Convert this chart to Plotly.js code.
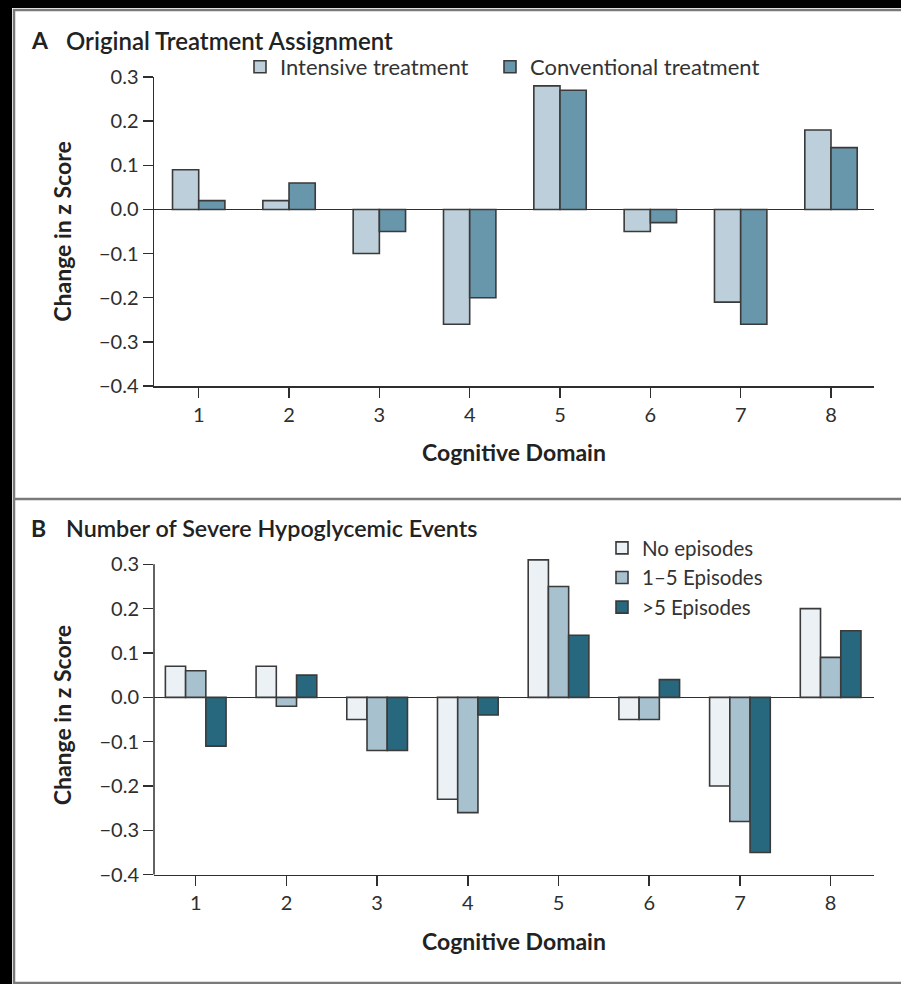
<!DOCTYPE html>
<html>
<head>
<meta charset="utf-8">
<script src="https://cdn.plot.ly/plotly-3.0.1.min.js"></script>
<style>html,body{margin:0;padding:0;background:#000;}</style>
</head>
<body>
<div id="chart" style="width:901px;height:984px;"></div>
<script>
// ---- data ----
const domains = [1, 2, 3, 4, 5, 6, 7, 8];
const domainTickText = ['1', '2', '3', '4', '5', '6', '7', '8'];
const yTickVals = [-0.4, -0.3, -0.2, -0.1, 0, 0.1, 0.2, 0.3];
const yTickText = ['\u22120.4', '\u22120.3', '\u22120.2', '\u22120.1', '0.0', '0.1', '0.2', '0.3'];

const panelATitle = 'Original Treatment Assignment';
const panelBTitle = 'Number of Severe Hypoglycemic Events';
const xTitle = 'Cognitive Domain';
const yTitle = 'Change in z Score';

const seriesANames = ['Intensive treatment', 'Conventional treatment'];
const intensive =    [0.09, 0.02, -0.10, -0.26, 0.28, -0.05, -0.21, 0.18];
const conventional = [0.02, 0.06, -0.05, -0.20, 0.27, -0.03, -0.26, 0.14];

const seriesBNames = ['No episodes', '1\u20135 Episodes', '>5 Episodes'];
const noEpisodes =    [0.07, 0.07, -0.05, -0.23, 0.31, -0.05, -0.20, 0.20];
const episodes1to5 =  [0.06, -0.02, -0.12, -0.26, 0.25, -0.05, -0.28, 0.09];
const episodesOver5 = [-0.11, 0.05, -0.12, -0.04, 0.14, 0.04, -0.35, 0.15];

// ---- styling ----
const W = 901, H = 984;
const fx = p => p / W;
const fy = p => 1 - p / H;
const FONT = 'Lato, "Open Sans", sans-serif';
const INK = '#2e2e2e';
const OUTLINE = {color: '#3a3a3a', width: 1.6};
const colorsA = ['#bccfda', '#6896ab'];
const colorsB = ['#ebf1f5', '#a8c1cf', '#27687e'];

const wA = 0.29;
const wB = 0.223;

function bar(name, y, xa, ya, w, off, color, leg, lw) {
  const t = {type: 'bar', name: name, x: domains, y: y, xaxis: xa, yaxis: ya,
          width: w, offset: off, cliponaxis: false,
          marker: {color: color, line: OUTLINE}, legend: leg, hoverinfo: 'x+y'};
  if (lw) t.legendwidth = lw;
  return t;
}

const traces = [
  bar(seriesANames[0], intensive, 'x', 'y', wA, -wA, colorsA[0], 'legend', 205),
  bar(seriesANames[1], conventional, 'x', 'y', wA, 0, colorsA[1], 'legend', 260),
  bar(seriesBNames[0], noEpisodes, 'x2', 'y2', wB, -1.5 * wB, colorsB[0], 'legend2'),
  bar(seriesBNames[1], episodes1to5, 'x2', 'y2', wB, -0.5 * wB, colorsB[1], 'legend2'),
  bar(seriesBNames[2], episodesOver5, 'x2', 'y2', wB, 0.5 * wB, colorsB[2], 'legend2')
];

function xAxis(range, anchor) {
  return {
    domain: [fx(154), fx(874)], range: range, anchor: anchor,
    tickmode: 'array', tickvals: domains, ticktext: domainTickText,
    ticks: 'outside', ticklen: 10, tickwidth: 1.5, tickcolor: INK,
    showline: true, linecolor: INK, linewidth: 1.5,
    showgrid: false, zeroline: false, fixedrange: true,
    tickfont: {family: FONT, size: 20, color: INK},
    title: {text: xTitle, font: {family: FONT, size: 23, color: '#222', weight: 700}, standoff: 20}
  };
}
function yAxis(range, top, bottom, anchor, showline) {
  return {
    domain: [fy(bottom), fy(top)], range: range, anchor: anchor,
    tickmode: 'array', tickvals: yTickVals, ticktext: yTickText,
    ticks: 'outside', ticklen: 10, tickwidth: 1.5, tickcolor: INK,
    showline: showline, linecolor: INK, linewidth: 1.5,
    showgrid: false, zeroline: true, zerolinecolor: INK, zerolinewidth: 1.5, fixedrange: true,
    tickfont: {family: FONT, size: 20, color: INK},
    title: {text: yTitle, font: {family: FONT, size: 23, color: '#222', weight: 700}, standoff: 21}
  };
}

// panel B: allow the 0.31 bar to rise above the 0.3 tick (axis line drawn to 0.3 only)
const pxPerUnitB = (874.7 - 564.3) / 0.7;
const yBTopPx = 564.3 - 0.02 * pxPerUnitB;

const layout = {
  width: W, height: H,
  margin: {l: 0, r: 0, t: 0, b: 0},
  paper_bgcolor: '#000',
  plot_bgcolor: '#fff',
  barmode: 'overlay',
  font: {family: FONT, color: INK},
  xaxis: xAxis([0.505, 8.476], 'y'),
  yaxis: yAxis([-0.4, 0.3], 77, 386, 'x', true),
  xaxis2: xAxis([0.54, 8.478], 'y2'),
  yaxis2: yAxis([-0.4, 0.32], yBTopPx, 874.7, 'x2', false),
  legend: {
    orientation: 'h', x: fx(240), y: fy(46), xanchor: 'left', yanchor: 'top',
    font: {family: FONT, size: 22, color: '#333'}, bgcolor: 'rgba(0,0,0,0)',
    entrywidthmode: 'pixels', traceorder: 'normal'
  },
  legend2: {
    orientation: 'v', x: fx(602), y: fy(528), xanchor: 'left', yanchor: 'top',
    font: {family: FONT, size: 20.5, color: '#333'}, bgcolor: 'rgba(0,0,0,0)',
    traceorder: 'normal', tracegroupgap: 0
  },
  shapes: [
    {type: 'rect', xref: 'paper', yref: 'paper', x0: fx(12), x1: fx(905), y0: fy(8), y1: fy(990),
     fillcolor: '#fff', line: {width: 0}, layer: 'below'},
    {type: 'rect', xref: 'paper', yref: 'paper', x0: fx(14), x1: fx(905), y0: fy(10), y1: fy(983),
     fillcolor: 'rgba(0,0,0,0)', line: {color: '#7a7a7a', width: 2.5}, layer: 'above'},
    {type: 'line', xref: 'paper', yref: 'paper', x0: fx(14), x1: fx(905), y0: fy(499), y1: fy(499),
     line: {color: '#7a7a7a', width: 2.5}, layer: 'above'},
    {type: 'line', xref: 'x2 domain', yref: 'y2', x0: 0, x1: 0, y0: yTickVals[0], y1: yTickVals[yTickVals.length - 1],
     line: {color: INK, width: 1.5}, layer: 'above'}
  ],
  annotations: [
    {xref: 'paper', yref: 'paper', x: fx(29), y: fy(40), xanchor: 'left', yanchor: 'middle', showarrow: false,
     text: '<b>A</b>', font: {family: FONT, size: 23, color: '#222'}},
    {xref: 'paper', yref: 'paper', x: fx(64), y: fy(40), xanchor: 'left', yanchor: 'middle', showarrow: false,
     text: panelATitle, font: {family: FONT, size: 24, color: '#222', weight: 600}},
    {xref: 'paper', yref: 'paper', x: fx(29), y: fy(528), xanchor: 'left', yanchor: 'middle', showarrow: false,
     text: '<b>B</b>', font: {family: FONT, size: 23, color: '#222'}},
    {xref: 'paper', yref: 'paper', x: fx(64), y: fy(528), xanchor: 'left', yanchor: 'middle', showarrow: false,
     text: panelBTitle, font: {family: FONT, size: 23.3, color: '#222', weight: 600}}
  ]
};

Plotly.newPlot('chart', traces, layout, {displayModeBar: false, staticPlot: true});
</script>
</body>
</html>
